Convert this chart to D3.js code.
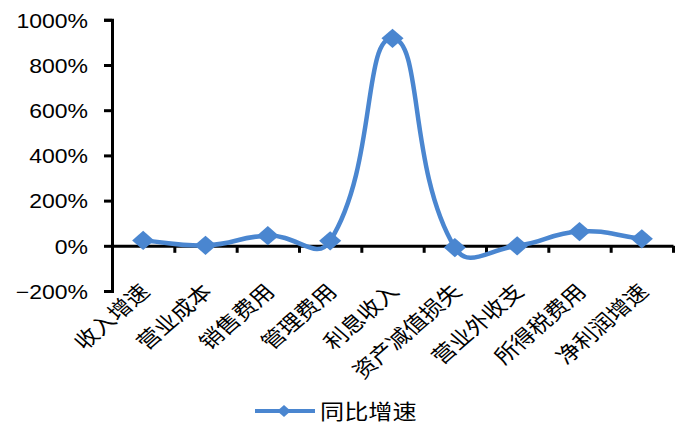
<!DOCTYPE html>
<html>
<head>
<meta charset="utf-8">
<script src="https://cdn.jsdelivr.net/npm/d3@7"></script>
<style>
  html, body { margin: 0; padding: 0; background: #fff; }
  svg { display: block; }
</style>
</head>
<body>
<svg id="chart" width="686" height="429"></svg>
<script>
// Year-on-year growth of each income-statement item
const categories = ['收入增速', '营业成本', '销售费用', '管理费用', '利息收入', '资产减值损失', '营业外收支', '所得税费用', '净利润增速'];
const growth = [0.24, 0.02, 0.45, 0.22, 9.18, -0.08, 0.00, 0.63, 0.31];
const yTicks = [-2, 0, 2, 4, 6, 8, 10];
const seriesName = '同比增速';

const blue = '#4a86d0';
const sx = 1.15;           // horizontal stretch applied to text and markers
const svg = d3.select('#chart');

const x = d3.scaleBand().domain(categories).range([112, 673]).paddingInner(0).paddingOuter(0);
const y = d3.scaleLinear().domain([-2, 10]).range([291, 19.8]);
const cx = c => x(c) + x.bandwidth() / 2;

// y axis
const yAxis = svg.append('g')
  .attr('transform', `translate(${x.range()[0]},0)`)
  .call(d3.axisLeft(y).tickValues(yTicks).tickSize(8).tickPadding(16)
    .tickFormat(d => d3.format('.0f')(d * 100) + '%'));
yAxis.select('.domain').attr('stroke', '#000').attr('stroke-width', 3);
yAxis.selectAll('.tick line').attr('stroke', '#000').attr('stroke-width', 3);
yAxis.selectAll('.tick text')
  .attr('x', null)
  .attr('transform', `translate(-24,0) scale(${sx},1)`)
  .attr('font-family', 'Liberation Sans, Arial, sans-serif')
  .attr('font-size', 20).attr('fill', '#000').attr('dy', '0.36em');

// x axis along the zero line, ticks at category boundaries
const xb = d3.scaleLinear().domain([0, categories.length]).range(x.range());
const xAxis = svg.append('g')
  .attr('transform', `translate(0,${y(0)})`)
  .call(d3.axisBottom(xb).tickValues(d3.range(1, categories.length + 1)).tickSize(7).tickSizeOuter(0).tickFormat(''));
xAxis.select('.domain').attr('stroke', '#000').attr('stroke-width', 3);
xAxis.selectAll('.tick line').attr('stroke', '#000').attr('stroke-width', 3);

// category labels, rotated
svg.append('g').selectAll('text')
  .data(categories)
  .join('text')
  .attr('transform', d => `translate(${cx(d) + 8},293) scale(${sx},1) rotate(-45)`)
  .attr('text-anchor', 'end')
  .attr('font-family', 'Noto Sans CJK SC, sans-serif')
  .attr('font-size', 20.5)
  .attr('fill', '#000')
  .text(d => d);

// smoothed line: cubic Béziers whose tangent lengths follow the neighbouring chord lengths
const pts = categories.map((c, i) => [cx(c), y(growth[i])]);
function smoothPath(p, k) {
  const path = d3.path();
  const dist = (a, b) => Math.hypot(b[0] - a[0], b[1] - a[1]);
  path.moveTo(p[0][0], p[0][1]);
  for (let i = 0; i < p.length - 1; i++) {
    const p0 = p[Math.max(i - 1, 0)], p1 = p[i], p2 = p[i + 1], p3 = p[Math.min(i + 2, p.length - 1)];
    const d01 = dist(p0, p1), d12 = dist(p1, p2), d23 = dist(p2, p3);
    const f1 = k * d12 / (d01 + d12);
    const f2 = k * d12 / (d12 + d23);
    const c1 = [p1[0] + (p2[0] - p0[0]) * f1, p1[1] + (p2[1] - p0[1]) * f1];
    const c2 = [p2[0] - (p3[0] - p1[0]) * f2, p2[1] - (p3[1] - p1[1]) * f2];
    path.bezierCurveTo(c1[0], c1[1], c2[0], c2[1], p2[0], p2[1]);
  }
  return path.toString();
}
svg.append('path')
  .attr('d', smoothPath(pts, 0.48))
  .attr('fill', 'none')
  .attr('stroke', blue)
  .attr('stroke-width', 4.5)
  .attr('stroke-linejoin', 'round');

// diamond markers
svg.append('g').selectAll('path')
  .data(pts)
  .join('path')
  .attr('transform', d => `translate(${d[0]},${d[1]}) scale(${sx},1) rotate(45)`)
  .attr('d', d3.symbol().type(d3.symbolSquare).size(185)())
  .attr('fill', blue);

// legend
const lg = svg.append('g');
lg.append('line').attr('x1', 255).attr('x2', 315).attr('y1', 411).attr('y2', 411)
  .attr('stroke', blue).attr('stroke-width', 4);
lg.append('path').attr('transform', `translate(284,411) scale(${sx},1) rotate(45)`)
  .attr('d', d3.symbol().type(d3.symbolSquare).size(70)())
  .attr('fill', blue);
lg.append('text')
  .attr('transform', `translate(320,419) scale(${sx},1)`)
  .attr('font-family', 'Noto Sans CJK SC, sans-serif')
  .attr('font-size', 21).attr('fill', '#000')
  .text(seriesName);
</script>
</body>
</html>
